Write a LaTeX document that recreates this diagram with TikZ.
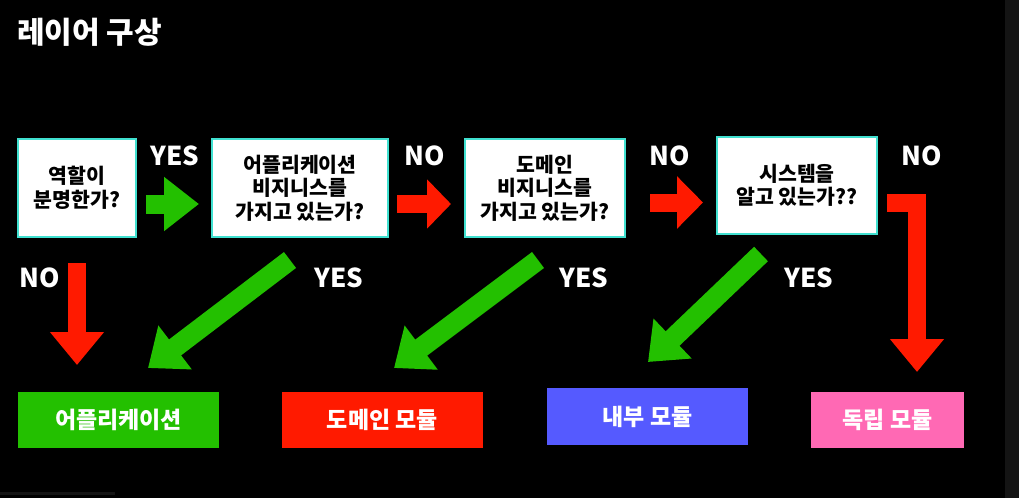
\documentclass[tikz,border=0pt]{standalone}
\usepackage{fontspec}
\setmainfont{Noto Sans CJK KR}
\usetikzlibrary{arrows.meta}
\definecolor{bggray}{RGB}{20,20,20}
\definecolor{qborder}{RGB}{64,224,208}
\definecolor{ggreen}{RGB}{35,192,0}
\definecolor{rred}{RGB}{255,26,0}
\definecolor{bblue}{RGB}{85,90,255}
\definecolor{ppink}{RGB}{255,105,180}
\tikzset{
  qbox/.style={draw=qborder, line width=2pt, fill=white, inner sep=0pt, align=center,
    font=\fontsize{20.5}{23.5}\selectfont\bfseries, text=black},
  modbox/.style={inner sep=0pt, minimum height=56pt, text=white,
    font=\fontsize{23}{27}\selectfont\bfseries},
  lbl/.style={text=white, inner sep=0pt, anchor=base, font=\fontsize{26}{30}\selectfont\bfseries},
  garrow/.style={draw=ggreen, line width=19pt, -{Triangle[length=35pt,width=52pt]}},
  rarrow/.style={draw=rred, line width=18pt, line join=miter}
}
\begin{document}
\begin{tikzpicture}[x=1pt,y=-1pt]
\fill[black] (0,0) rectangle (1019,498);
\useasboundingbox (0,0) rectangle (1019,498);
\fill[bggray] (1005,0) rectangle (1019,498);
\fill[bggray] (0,492) rectangle (115,495);

% title
\node[text=white, inner sep=0pt, anchor=base west, font=\fontsize{30}{34}\selectfont\bfseries] (title) at (17,43) {레이어 구상};

% question boxes
\node[qbox, minimum width=118pt, minimum height=98pt] (q1) at (77,188) {역할이\\분명한가?};
\node[qbox, minimum width=176pt, minimum height=98pt] (q2) at (300,188) {어플리케이션\\비지니스를\\가지고 있는가?};
\node[qbox, minimum width=160pt, minimum height=98pt] (q3) at (545,188) {도메인\\비지니스를\\가지고 있는가?};
\node[qbox, minimum width=160pt, minimum height=97pt] (q4) at (797,185.5) {시스템을\\알고 있는가??};

% module boxes
\node[modbox, fill=ggreen, minimum width=201pt] (m1) at (118.5,420) {어플리케이션};
\node[modbox, fill=rred, minimum width=201pt] (m2) at (382.5,420) {도메인 모듈};
\node[modbox, fill=bblue, minimum width=201pt, minimum height=57pt] (m3) at (647.5,416.5) {내부 모듈};
\node[modbox, fill=ppink, minimum width=153pt] (m4) at (887.5,420) {독립 모듈};

% labels
\node[lbl] (y1) at (175,165) {YES};
\node[lbl] (n1) at (425,165) {NO};
\node[lbl] (n2) at (670,165) {NO};
\node[lbl] (n3) at (922,165) {NO};
\node[lbl] (n0) at (40,287) {NO};
\node[lbl] (y2) at (339,287) {YES};
\node[lbl] (y3) at (584,287) {YES};
\node[lbl] (y4) at (809,287) {YES};

% arrow coordinates
\coordinate (a1s) at (146,204);  \coordinate (a1e) at (199,204);
\coordinate (a2s) at (397,204);  \coordinate (a2e) at (451,204);
\coordinate (a3s) at (650,202.5);\coordinate (a3e) at (703,202.5);
\coordinate (d0s) at (77,263);   \coordinate (d0e) at (77,365);
\coordinate (g1s) at (290,260);  \coordinate (g1e) at (148,368);
\coordinate (g2s) at (538,260);  \coordinate (g2e) at (394,368);
\coordinate (g3s) at (761,254);  \coordinate (g3e) at (648,362);
\coordinate (ls) at (887,202.5); \coordinate (lc) at (917,202.5); \coordinate (le) at (917,372);

% arrows
\draw[garrow] (a1s) -- (a1e);
\draw[rarrow, -{Triangle[length=24pt,width=48pt]}] (a2s) -- (a2e);
\draw[rarrow, -{Triangle[length=26pt,width=51pt]}] (a3s) -- (a3e);
\draw[rarrow, -{Triangle[length=33pt,width=52pt]}] (d0s) -- (d0e);
\draw[garrow, line width=20pt, -{Triangle[length=34pt,width=53pt]}] (g1s) -- (g1e);
\draw[garrow, line width=20pt, -{Triangle[length=34pt,width=53pt]}] (g2s) -- (g2e);
\draw[garrow, line width=20pt, -{Triangle[length=34pt,width=53pt]}] (g3s) -- (g3e);
\draw[rarrow, -{Triangle[length=33pt,width=52pt]}] (ls) -- (lc) -- (le);
\end{tikzpicture}
\end{document}
